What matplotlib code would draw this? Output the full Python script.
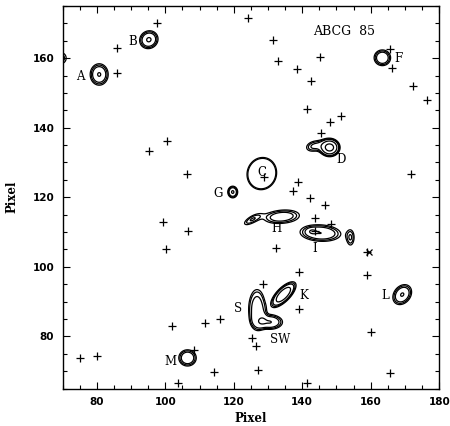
import numpy as np
import matplotlib.pyplot as plt

# optical positions (plus signs)
plus_x = [97.7, 124.2, 85.8, 85.9, 95.3, 100.5, 106.3, 131.5, 132.9, 138.6, 145.1, 142.7,
          141.5, 148.1, 151.3, 145.4, 165.5, 166.3, 172.4, 176.5, 171.7, 128.7, 138.7, 137.3,
          142.4, 146.7, 143.8, 148.4, 143.7, 132.2, 159.0, 159.0, 139.2, 128.5, 139.1, 115.9,
          111.5, 102.0, 125.4, 126.6, 114.1, 127.1, 141.4, 103.6, 99.3, 106.6, 100.1, 75.2,
          80.2, 108.3, 160.2, 165.5]
plus_y = [170.2, 171.6, 163.0, 155.6, 133.2, 136.3, 126.8, 165.2, 159.1, 157.0, 160.3, 153.4,
          145.3, 141.6, 143.3, 138.5, 162.6, 157.3, 152.1, 148.1, 126.8, 125.9, 124.3, 121.8,
          119.7, 117.9, 114.1, 112.2, 110.3, 105.4, 104.3, 97.6, 98.5, 95.1, 87.9, 85.1,
          83.7, 82.9, 79.6, 77.1, 69.8, 70.2, 66.6, 66.6, 112.9, 110.2, 105.0, 73.8,
          74.4, 76.2, 81.3, 69.6]
cross_x = [159.6]
cross_y = [104.3]

# radio components: centre, widths, angle, peak, profile exponent
#          A      B      edge   C      D      Dtail  F      G      H      Hloop  I      Ipk    blob   K      S      SW     L      M
src_x = [80.7,  95.2,  69.6,  128.2, 148.0, 143.5, 163.4, 119.7, 134.0, 125.2, 145.3, 142.7, 154.1, 134.5, 126.8, 130.5, 169.2, 106.5]
src_y = [155.3, 165.3, 160.0, 126.8, 134.3, 134.7, 160.1, 121.5, 114.4, 113.5, 109.7, 110.2, 108.3, 92.0,  87.8,  84.1,  92.0,  73.8]
src_sx = [1.75, 1.8,   1.5,   4.3,   1.5,   2.0,   1.65,  0.95,  3.8,   2.3,   4.0,   0.9,   0.95,  2.7,   2.3,   2.5,   2.1,   1.75]
src_sy = [2.05, 1.65,  1.6,   4.7,   1.3,   1.2,   1.55,  1.1,   1.4,   0.85,  1.6,   0.6,   2.0,   1.1,   5.3,   1.4,   1.6,   1.6]
src_ang = [0,   30,    0,     -20,   0,     15,    0,     0,     5,     30,    -3,    0,     0,     45,    0,     0,     50,    0]
src_amp = [3.1, 3.2,   1.6,   1.6,   8.0,   1.9,   2.9,   3.2,   2.5,   1.6,   3.0,   1.0,   1.6,   5.0,   1.9,   3.05,  3.1,   2.9]
src_p = [2,     2,     2,     14,    2,     2,     2,     2,     2,     2,     2,     2,     2,     2,     4,     2,     2,     2]
levels = [1.0, 1.3, 1.7, 3.0, 6.0]

labels = ["A", "B", "C", "D", "F", "G", "H", "I", "K", "S", "SW", "L", "M"]
label_x = [75.2, 90.4, 128.1, 151.4, 168.2, 115.4, 132.5, 143.7, 140.5, 121.3, 133.6, 164.3, 101.6]
label_y = [154.6, 164.9, 127.2, 130.9, 159.8, 121.0, 110.9, 105.2, 91.8, 87.9, 79.0, 91.7, 72.8]

xx, yy = np.meshgrid(np.arange(64, 183, 0.1), np.arange(60, 180, 0.1))
field = np.zeros_like(xx)
for x0, y0, sx, sy, ang, amp, p in zip(src_x, src_y, src_sx, src_sy, src_ang, src_amp, src_p):
    t = np.radians(ang)
    u = ((xx - x0) * np.cos(t) + (yy - y0) * np.sin(t)) / sx
    v = (-(xx - x0) * np.sin(t) + (yy - y0) * np.cos(t)) / sy
    r = np.sqrt(u**2 + v**2)
    field += amp * np.exp(-0.5 * r**p)

fig = plt.figure(figsize=(4.5, 4.26), dpi=100)
ax = fig.add_axes([0.139, 0.088, 0.837, 0.898])

ax.contour(xx, yy, field, levels=levels, colors="black", linewidths=0.9)
ax.plot(plus_x, plus_y, "k+", ms=6, mew=0.9)
ax.plot(cross_x, cross_y, "kx", ms=5, mew=0.9)

for lab, lx, ly in zip(labels, label_x, label_y):
    ax.text(lx, ly, lab, family="DejaVu Serif", fontsize=8.5, ha="center", va="center")
ax.text(152.1, 167.7, "ABCG  85", family="DejaVu Serif", fontsize=9, ha="center", va="center")

ax.set_xlim(70, 180)
ax.set_ylim(65, 175)
ax.set_xticks(np.arange(80, 181, 20))
ax.set_yticks(np.arange(80, 161, 20))
ax.set_xticks(np.arange(70, 181, 5), minor=True)
ax.set_yticks(np.arange(65, 176, 5), minor=True)
ax.tick_params(which="both", direction="in", top=True, right=True, width=0.8)
ax.tick_params(which="major", length=5, labelsize=7.5, pad=6)
ax.tick_params(which="minor", length=3)
for lab in ax.get_xticklabels() + ax.get_yticklabels():
    lab.set_fontweight("bold")
ax.set_xlabel("Pixel", family="DejaVu Serif", fontsize=8.5, fontweight="bold")
ax.set_ylabel("Pixel", family="DejaVu Serif", fontsize=8.5, fontweight="bold", labelpad=10)
for s in ax.spines.values():
    s.set_linewidth(1.0)

fig.savefig("out.png", dpi=100)
